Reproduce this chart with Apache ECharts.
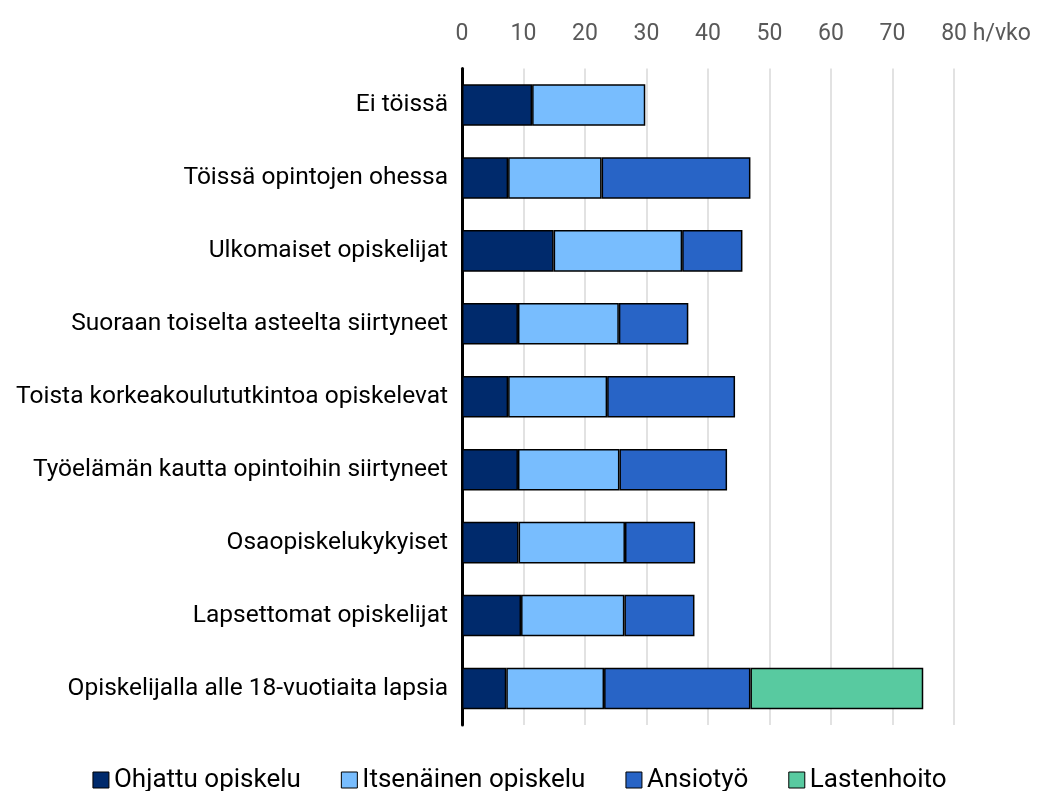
<!DOCTYPE html>
<html>
<head>
<meta charset="utf-8">
<script src="https://cdn.jsdelivr.net/npm/echarts@6/dist/echarts.min.js"></script>
<style>
  html, body { margin: 0; padding: 0; background: #fff; }
  #chart { width: 1039px; height: 791px; }
</style>
</head>
<body>
<div id="chart"></div>
<script>
// Weekly hours by student group (h/vko)
const categories = [
  'Ei töissä',
  'Töissä opintojen ohessa',
  'Ulkomaiset opiskelijat',
  'Suoraan toiselta asteelta siirtyneet',
  'Toista korkeakoulututkintoa opiskelevat',
  'Työelämän kautta opintoihin siirtyneet',
  'Osaopiskelukykyiset',
  'Lapsettomat opiskelijat',
  'Opiskelijalla alle 18-vuotiaita lapsia'
];
const ohjattu    = [11.4, 7.5, 14.9, 9.1, 7.5, 9.1, 9.2, 9.6, 7.2];
const itsenainen = [18.4, 15.2, 20.9, 16.4, 16.1, 16.5, 17.3, 16.8, 15.9];
const ansiotyo   = [0, 24.2, 9.8, 11.3, 20.8, 17.5, 11.4, 11.4, 23.8];
const lastenhoito = [0, 0, 0, 0, 0, 0, 0, 0, 28.1];
const seriesNames = ['Ohjattu opiskelu', 'Itsenäinen opiskelu', 'Ansiotyö', 'Lastenhoito'];
const seriesColors = ['#002a6c', '#78bdfe', '#2864c6', '#58caa0'];
const axisTicks = { min: 0, max: 80, interval: 10, unit: 'h/vko' };

const FONT = 'Roboto';
const chart = echarts.init(document.getElementById('chart'));

const values = [ohjattu, itsenainen, ansiotyo, lastenhoito];
const series = seriesNames.map((name, i) => ({
  name,
  type: 'bar',
  stack: 'total',
  barWidth: '57%',
  data: values[i].map(v => (v > 0 ? v : null)),
  itemStyle: { color: seriesColors[i], borderColor: '#000', borderWidth: 1.5 },
  emphasis: { disabled: true }
}));

chart.setOption({
  animation: false,
  textStyle: { fontFamily: FONT },
  grid: { left: 462, right: 85, top: 68.5, bottom: 66 },
  legend: {
    bottom: -7,
    left: 'center',
    icon: 'rect',
    itemWidth: 16,
    itemHeight: 16,
    itemGap: 40,
    data: seriesNames.map((n, i) => ({
      name: n,
      itemStyle: { color: seriesColors[i], borderColor: '#000', borderWidth: 1 }
    })),
    textStyle: { fontFamily: FONT, fontSize: 26, color: '#000' }
  },
  xAxis: {
    type: 'value',
    position: 'top',
    min: axisTicks.min,
    max: axisTicks.max,
    interval: axisTicks.interval,
    axisLine: { show: false },
    axisTick: { show: false },
    splitLine: { lineStyle: { color: '#d9d9d9', width: 1.5 } },
    axisLabel: {
      margin: 23,
      color: '#595959',
      fontSize: 23,
      fontFamily: FONT,
      formatter: v => (v === axisTicks.max ? '{sp|}' + v + ' ' + axisTicks.unit : String(v)),
      rich: { sp: { width: 64 } }
    }
  },
  yAxis: {
    type: 'category',
    inverse: true,
    data: categories,
    axisLine: { lineStyle: { color: '#000', width: 3 } },
    axisTick: { show: false },
    axisLabel: { margin: 14, color: '#000', fontSize: 24.5, fontFamily: FONT }
  },
  series
});
</script>
</body>
</html>
